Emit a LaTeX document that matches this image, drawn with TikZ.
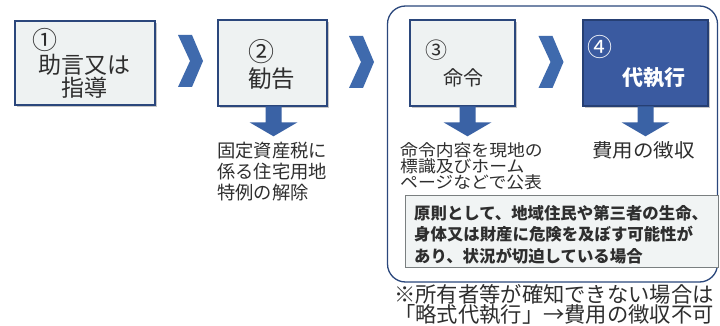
\documentclass[tikz,border=0pt]{standalone}
\usepackage{fontspec}
\setmainfont{Noto Sans CJK JP}
\newfontfamily\jpwide[FakeStretch=1.08]{Noto Sans CJK JP}
\usetikzlibrary{shadows}
\definecolor{navy}{HTML}{2B477C}
\definecolor{boxfill}{HTML}{EEF2F2}
\definecolor{chev}{HTML}{3F6AAD}
\definecolor{darkfill}{HTML}{3A5AA0}
\definecolor{darkline}{HTML}{263F73}
\definecolor{arr}{HTML}{3A62A5}
\definecolor{txt}{HTML}{2E2E2E}
\definecolor{notefill}{HTML}{F1F4F4}
\definecolor{noteline}{HTML}{7A7F80}
\tikzset{
  stepbox/.style={draw=navy, line width=2.6pt, fill=boxfill, inner sep=0pt,
    drop shadow={shadow xshift=2pt, shadow yshift=-2pt, fill=black, opacity=0.22}},
  lbl/.style={inner sep=0pt, text=txt, align=center},
  chevron/.pic={\fill[chev] (-12.5,-26) -- (1.5,-26) -- (12.5,0) -- (1.5,26) -- (-12.5,26) -- (-0.5,0) -- cycle;},
  downarrow/.pic={\fill[arr] (-8,-1) -- (8,-1) -- (8,15) -- (24,15) -- (0,29) -- (-24,15) -- (-8,15) -- cycle;}
}
\begin{document}
\begin{tikzpicture}[x=1pt,y=-1pt]
\useasboundingbox[fill=white] (0,0) rectangle (720,326);
% group frame
\node[draw=navy, line width=1.3pt, rounded corners=18pt, minimum width=330pt, minimum height=276pt, inner sep=0pt] (grp) at (552.5,144) {};
% note box
\node[draw=noteline, line width=0.6pt, fill=notefill, minimum width=313pt, minimum height=72pt, inner sep=0pt] (note) at (561.5,231) {};
% step boxes
\node[stepbox, minimum width=140pt, minimum height=84pt] (b1) at (85,63) {};
\node[stepbox, minimum width=109pt, minimum height=86pt] (b2) at (272.5,63) {};
\node[stepbox, minimum width=105pt, minimum height=86pt] (b3) at (462.5,63) {};
\node[stepbox, draw=darkline, fill=darkfill, minimum width=125pt, minimum height=86pt] (b4) at (645.5,63) {};
% chevrons
\pic (c1) at (190.5,61) {chevron};
\pic (c2) at (361.5,62) {chevron};
\pic (c3) at (551,62) {chevron};
% down arrows
\pic (a2) at ([xshift=1pt]b2.south) {downarrow};
\pic (a3) at ([xshift=5pt]b3.south) {downarrow};
\pic (a4) at (b4.south) {downarrow};
% box texts
\node[lbl, anchor=north west, font=\fontsize{25}{25}\selectfont] (n1) at (32,28) {①};
\node[lbl, anchor=north, font=\fontsize{23}{23}\selectfont] (t1) at (84,54) {助言又は\\指導};
\node[lbl, anchor=north west, font=\fontsize{26}{26}\selectfont] (n2) at (248,39) {②};
\node[lbl, anchor=north, font=\fontsize{23.5}{24}\selectfont] (t2) at (271.5,68) {勧告};
\node[lbl, anchor=north west, font=\fontsize{22}{22}\selectfont] (n3) at (425,40) {③};
\node[lbl, anchor=north, font=\fontsize{20}{20}\selectfont] (t3) at (463,68) {命令};
\node[lbl, text=white, anchor=north west, font=\fontsize{25}{25}\selectfont] (n4) at (587,35) {④};
\node[lbl, text=white, anchor=north, font=\fontsize{21}{21}\selectfont\bfseries] (t4) at (653.5,67) {代執行};
% texts under boxes
\node[lbl, align=left, anchor=north west, font=\fontsize{18.3}{21}\selectfont] (d2) at (217,142) {固定資産税に\\係る住宅用地\\特例の解除};
\node[lbl, align=left, anchor=north west, font=\jpwide\fontsize{16.5}{16}\selectfont] (d3) at (400,142) {命令内容を現地の\\標識及びホーム\\ページなどで公表};
\node[lbl, align=left, anchor=north west, font=\jpwide\fontsize{19}{19}\selectfont] (d4) at (592,141) {費用の徴収};
% note text
\node[lbl, align=left, anchor=north west, font=\fontsize{16.4}{21.5}\selectfont\bfseries] (nt) at (414,205) {原則として、地域住民や第三者の生命、\\身体又は財産に危険を及ぼす可能性が\\あり、状況が切迫している場合};
% footnote
\node[lbl, align=left, anchor=north west, font=\fontsize{21.3}{20}\selectfont] (fn) at (394,284) {※所有者等が確知できない場合は\\「略式代執行」→費用の徴収不可};
\end{tikzpicture}
\end{document}
